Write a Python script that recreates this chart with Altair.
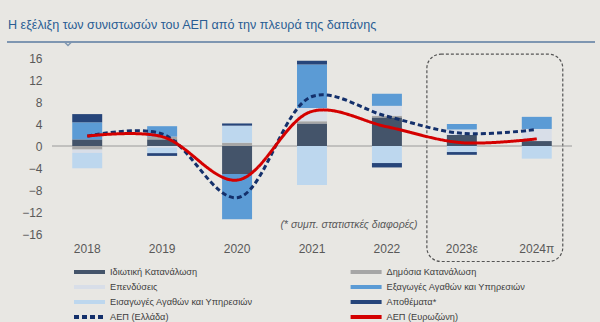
import altair as alt
import pandas as pd

years = ["2018", "2019", "2020", "2021", "2022", "2023ε", "2024π"]

private_cons = [1.2, 1.2, -5.1, 4.1, 5.2, 2.0, 0.9]
public_cons = [-0.65, 0.5, 0.6, 0.4, 0.3, 0.0, 0.0]
investment = [-0.6, -0.3, 0.0, 2.4, 1.8, 1.0, 2.2]
exports = [3.1, 1.9, -8.2, 7.9, 2.2, 1.0, 2.2]
imports = [-2.8, -1.0, 3.1, -7.1, -3.1, -1.1, -2.3]
inventories = [1.5, -0.5, 0.4, 0.7, -0.8, -0.5, 0.0]

gdp_greece = [1.8, 2.2, -9.4, 9.0, 5.4, 2.3, 3.0]
gdp_euro = [1.8, 1.7, -6.2, 6.3, 3.5, 0.6, 1.3]

y_ticks = [-16, -12, -8, -4, 0, 4, 8, 12, 16]

bar_names = ["Ιδιωτική Κατανάλωση", "Δημόσια Κατανάλωση", "Επενδύσεις",
             "Εξαγωγές Αγαθών και Υπηρεσιών", "Εισαγωγές Αγαθών και Υπηρεσιών",
             "Αποθέματα*"]
line_names = ["ΑΕΠ (Ελλάδα)", "ΑΕΠ (Ευρωζώνη)"]
# legend order (two columns, filled column by column)
legend_names = ["Ιδιωτική Κατανάλωση", "Επενδύσεις", "Εισαγωγές Αγαθών και Υπηρεσιών",
                "ΑΕΠ (Ελλάδα)", "Δημόσια Κατανάλωση", "Εξαγωγές Αγαθών και Υπηρεσιών",
                "Αποθέματα*", "ΑΕΠ (Ευρωζώνη)"]
colors = ["#44546a", "#d8dee8", "#bdd7ee", "#14306b",
          "#a6a6a6", "#5b9bd5", "#26457a", "#d40000"]
dashes = [[1, 0], [1, 0], [1, 0], [5, 3], [1, 0], [1, 0], [1, 0], [1, 0]]

footnote = "(* συμπ. στατιστκές διαφορές)"
title_text = "Η εξέλιξη των συνιστωσών του ΑΕΠ από την πλευρά της δαπάνης"

bar_series = [private_cons, public_cons, investment, exports, imports, inventories]
rows = []
for k, (name, vals) in enumerate(zip(bar_names, bar_series)):
    for y, v in zip(years, vals):
        rows.append({"year": y, "series": name, "value": v, "ord": k})
bars_df = pd.DataFrame(rows)

lrows = []
for name, vals in zip(line_names, [gdp_greece, gdp_euro]):
    for y, v in zip(years, vals):
        lrows.append({"year": y, "series": name, "value": v})
lines_df = pd.DataFrame(lrows)

FONT = "Liberation Sans"
x_scale = alt.Scale(domain=years, paddingInner=0.6, paddingOuter=0.27)
y_scale = alt.Scale(domain=[-16, 16], nice=False, zero=False)
color_scale = alt.Scale(domain=legend_names, range=colors)
dash_scale = alt.Scale(domain=legend_names, range=dashes)

x_axis = alt.Axis(title=None, domain=False, ticks=False, labelPadding=9,
                  labelFont=FONT, labelFontSize=12, labelColor="#595959", labelAngle=0)
y_axis = alt.Axis(title=None, domain=False, ticks=False, grid=False,
                  values=y_ticks, tickCount=9, labelOverlap=False,
                  labelPadding=10, labelFont=FONT, labelFontSize=12,
                  labelColor="#595959")

legend = alt.Legend(
    title=None, orient="none", legendX=30.5, legendY=207, columns=2,
    columnPadding=88.6, rowPadding=-2, symbolType="M-3.1,0H3.1", symbolSize=100,
    symbolStrokeWidth=4, labelFont=FONT, labelFontSize=9.2, labelColor="#404040",
    labelOffset=13.5, labelLimit=260, symbolOpacity=1)

bars = alt.Chart(bars_df).mark_bar().encode(
    x=alt.X("year:N", sort=years, scale=x_scale, axis=x_axis),
    y=alt.Y("value:Q", scale=y_scale, stack="zero", axis=y_axis),
    color=alt.Color("series:N", scale=color_scale, legend=legend),
    order=alt.Order("ord:Q", sort="ascending"),
)

lines = alt.Chart(lines_df).mark_line(interpolate="catmull-rom", strokeWidth=3).encode(
    x=alt.X("year:N", sort=years, scale=x_scale, axis=x_axis),
    y=alt.Y("value:Q", scale=y_scale, axis=y_axis),
    color=alt.Color("series:N", scale=color_scale, legend=legend),
    strokeDash=alt.StrokeDash("series:N", scale=dash_scale, legend=legend),
)

zero = alt.Chart(pd.DataFrame({"z": [0]})).mark_rule(color="#9a9a9a", strokeWidth=1).encode(
    y=alt.Y("z:Q", scale=y_scale, axis=y_axis)
)

box = alt.Chart(pd.DataFrame({"a": [0]})).mark_rect(
    fillOpacity=0, stroke="#555555", strokeWidth=1.2, strokeDash=[3, 2],
    cornerRadius=14, xOffset=-20, x2Offset=11
).encode(
    x=alt.X(datum="2023ε", bandPosition=0, scale=x_scale, axis=x_axis),
    x2=alt.X2(datum="2024π", bandPosition=1),
    y=alt.Y(datum=16.7, scale=y_scale, axis=y_axis),
    y2=alt.Y2(datum=-21.0),
)

note = alt.Chart(pd.DataFrame({"t": [footnote]})).mark_text(
    font=FONT, fontSize=10.5, fontStyle="italic", color="#595959", align="center",
    baseline="middle", dx=37
).encode(
    x=alt.X(datum="2021", scale=x_scale, axis=x_axis),
    y=alt.Y(datum=-14.3, scale=y_scale, axis=y_axis),
    text="t:N",
)

title = alt.Chart(pd.DataFrame({"t": [title_text]})).mark_text(
    font=FONT, fontSize=12.6, color="#2a5d93", align="left", baseline="middle"
).encode(x=alt.value(-44), y=alt.value(-33), text="t:N")

underline = alt.Chart(pd.DataFrame({"a": [0]})).mark_rule(
    color="#7e96b1", strokeWidth=2
).encode(x=alt.value(-45), x2=alt.value(543), y=alt.value(-16))

chevron = alt.Chart(pd.DataFrame({"a": [0]})).mark_point(
    shape="M-1,0L0,1L1,0", filled=False, size=49, stroke="#7e96b1", strokeWidth=1.5, opacity=1
).encode(x=alt.value(16), y=alt.value(-16))

chart = alt.layer(box, zero, bars, lines, note, title, underline, chevron).resolve_scale(
    color="shared"
).properties(
    width=520, height=176,
    autosize=alt.AutoSizeParams(type="none"),
    padding={"left": 52, "top": 58, "right": 28, "bottom": 88},
    background="#e8e7e3",
).configure_view(stroke=None, clip=False)

chart.save("out.html", embed_options={"renderer": "svg", "actions": False})
